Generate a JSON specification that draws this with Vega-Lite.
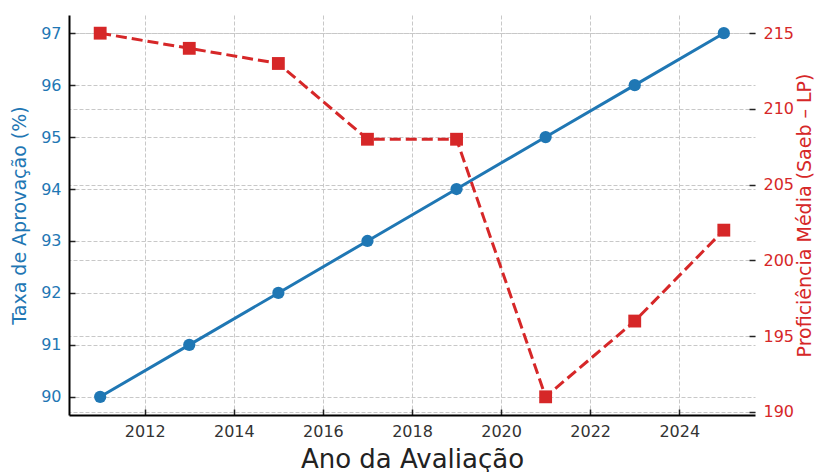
{
  "$schema": "https://vega.github.io/schema/vega-lite/v6.json",
  "width": 686,
  "height": 400,
  "autosize": {"type": "none"},
  "padding": {"left": 69, "top": 15, "right": 63, "bottom": 57},
  "background": "white",
  "config": {
    "view": {"stroke": null},
    "font": "DejaVu Sans",
    "axis": {"labelFont": "DejaVu Sans", "titleFont": "DejaVu Sans", "titleFontWeight": "normal"}
  },
  "data": {
    "values": [
      {"ano": 2011, "taxa": 90, "prof": 215},
      {"ano": 2013, "taxa": 91, "prof": 214},
      {"ano": 2015, "taxa": 92, "prof": 213},
      {"ano": 2017, "taxa": 93, "prof": 208},
      {"ano": 2019, "taxa": 94, "prof": 208},
      {"ano": 2021, "taxa": 95, "prof": 191},
      {"ano": 2023, "taxa": 96, "prof": 196},
      {"ano": 2025, "taxa": 97, "prof": 202}
    ]
  },
  "encoding": {
    "x": {
      "field": "ano",
      "type": "quantitative",
      "scale": {"domain": [2010.3, 2025.7], "nice": false, "zero": false},
      "axis": {
        "title": "Ano da Avaliação",
        "titleFontSize": 26,
        "titleColor": "#222222",
        "titlePadding": 7,
        "values": [2012, 2014, 2016, 2018, 2020, 2022, 2024],
        "format": "d",
        "labelFontSize": 16,
        "labelColor": "#333333",
        "labelPadding": 14,
        "tickSize": -6,
        "tickColor": "#222222",
        "tickWidth": 1.5,
        "domainColor": "#000000",
        "domainWidth": 2,
        "grid": true,
        "gridColor": "#c8c8c8",
        "gridDash": [4, 2],
        "gridWidth": 1
      }
    }
  },
  "layer": [
    {
      "layer": [
        {
          "mark": {"type": "line", "color": "#1f77b4", "strokeWidth": 3},
          "encoding": {
            "y": {
              "field": "taxa",
              "type": "quantitative",
              "scale": {"domain": [89.65, 97.35], "nice": false, "zero": false},
              "axis": {
                "orient": "left",
                "title": "Taxa de Aprovação (%)",
                "titleColor": "#1f77b4",
                "titleFontSize": 19,
                "titlePadding": 11,
                "values": [90, 91, 92, 93, 94, 95, 96, 97],
                "labelColor": "#1f77b4",
                "labelFontSize": 16,
                "labelPadding": 14,
                "tickSize": -6,
                "tickColor": "#222222",
                "tickWidth": 1.5,
                "domainColor": "#000000",
                "domainWidth": 2,
                "grid": true,
                "gridColor": "#c8c8c8",
                "gridDash": [4, 2],
                "gridWidth": 1
              }
            }
          }
        },
        {
          "mark": {"type": "point", "shape": "circle", "filled": true, "opacity": 1, "color": "#1f77b4", "size": 150},
          "encoding": {"y": {"field": "taxa", "type": "quantitative"}}
        }
      ]
    },
    {
      "layer": [
        {
          "mark": {"type": "line", "color": "#d62728", "strokeWidth": 3, "strokeDash": [11, 5]},
          "encoding": {
            "y": {
              "field": "prof",
              "type": "quantitative",
              "scale": {"domain": [189.8, 216.2], "nice": false, "zero": false},
              "axis": {
                "orient": "right",
                "title": "Proficiência Média (Saeb – LP)",
                "titleColor": "#d62728",
                "titleFontSize": 19,
                "titleAngle": 270,
                "titlePadding": 21,
                "values": [190, 195, 200, 205, 210, 215],
                "labelColor": "#d62728",
                "labelFontSize": 16,
                "labelPadding": 14,
                "tickSize": -6,
                "tickColor": "#222222",
                "tickWidth": 1.5,
                "domain": false,
                "grid": true,
                "gridColor": "#c8c8c8",
                "gridDash": [4, 2],
                "gridWidth": 1
              }
            }
          }
        },
        {
          "mark": {"type": "point", "shape": "square", "filled": true, "opacity": 1, "color": "#d62728", "size": 165},
          "encoding": {"y": {"field": "prof", "type": "quantitative"}}
        }
      ]
    }
  ],
  "resolve": {"scale": {"y": "independent"}}
}
